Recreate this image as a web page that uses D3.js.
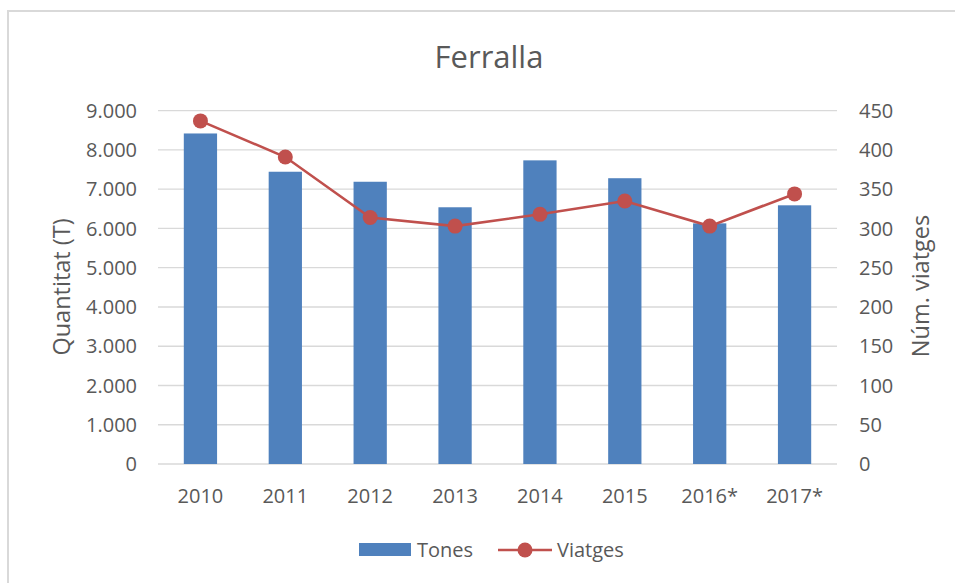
<!DOCTYPE html>
<html lang="ca">
<head>
    <meta charset="UTF-8">
    <title>Ferralla</title>
    <script src="https://d3js.org/d3.v7.min.js"></script>
    <style>
        body {
            margin: 0;
            background: #fff;
            font-family: "Open Sans", Arial, sans-serif;
        }
        .grid line {
            stroke: #d9d9d9;
            stroke-width: 1.3px;
        }
        .tick-label {
            font-size: 20px;
            fill: #595959;
        }
        .axis-title {
            font-size: 23.5px;
            fill: #595959;
        }
    </style>
</head>
<body>
    <svg id="chart" width="955" height="583"></svg>

    <script>
        // chart data
        const years = ["2010", "2011", "2012", "2013", "2014", "2015", "2016*", "2017*"];
        const tones = [8420, 7445, 7190, 6540, 7735, 7280, 6130, 6590];
        const viatges = [437, 391, 314, 303, 318, 335, 303, 344];
        const leftTicks = [0, 1000, 2000, 3000, 4000, 5000, 6000, 7000, 8000, 9000];
        const rightTicks = [0, 50, 100, 150, 200, 250, 300, 350, 400, 450];

        const barColor = "#4f81bd";
        const lineColor = "#c0504d";

        const svg = d3.select("#chart");

        // outer frame of the chart area
        svg.append("rect")
            .attr("x", 8)
            .attr("y", 11)
            .attr("width", 960)
            .attr("height", 600)
            .attr("fill", "none")
            .attr("stroke", "#d9d9d9")
            .attr("stroke-width", 2);

        const plot = { left: 158, right: 837, top: 110.7, bottom: 464 };

        const x = d3.scaleBand()
            .domain(years)
            .range([plot.left, plot.right])
            .paddingInner(0.608)
            .paddingOuter(0.304);

        const xPoint = d => x(d) + x.bandwidth() / 2;

        const yLeft = d3.scaleLinear().domain([0, 9000]).range([plot.bottom, plot.top]);
        const yRight = d3.scaleLinear().domain([0, 450]).range([plot.bottom, plot.top]);

        const fmt = d3.formatLocale({ decimal: ",", thousands: ".", grouping: [3], currency: ["", " €"] }).format(",");

        // title
        svg.append("text")
            .attr("x", 489)
            .attr("y", 68)
            .attr("text-anchor", "middle")
            .attr("font-size", 31)
            .attr("fill", "#595959")
            .text("Ferralla");

        // gridlines
        svg.append("g")
            .attr("class", "grid")
            .selectAll("line")
            .data(leftTicks)
            .join("line")
            .attr("x1", plot.left)
            .attr("x2", plot.right)
            .attr("y1", d => yLeft(d))
            .attr("y2", d => yLeft(d));

        // left axis labels
        svg.append("g")
            .selectAll("text")
            .data(leftTicks)
            .join("text")
            .attr("class", "tick-label")
            .attr("x", 137)
            .attr("y", d => yLeft(d))
            .attr("dy", "0.36em")
            .attr("text-anchor", "end")
            .text(d => fmt(d));

        // right axis labels
        svg.append("g")
            .selectAll("text")
            .data(rightTicks)
            .join("text")
            .attr("class", "tick-label")
            .attr("x", 859)
            .attr("y", d => yRight(d))
            .attr("dy", "0.36em")
            .attr("text-anchor", "start")
            .text(d => d);

        // category labels
        svg.append("g")
            .selectAll("text")
            .data(years)
            .join("text")
            .attr("class", "tick-label")
            .attr("x", d => xPoint(d))
            .attr("y", 503)
            .attr("text-anchor", "middle")
            .text(d => d);

        // axis titles
        svg.append("text")
            .attr("class", "axis-title")
            .attr("transform", "translate(70,287) rotate(-90)")
            .attr("text-anchor", "middle")
            .text("Quantitat (T)");

        svg.append("text")
            .attr("class", "axis-title")
            .attr("transform", "translate(929,286) rotate(-90)")
            .attr("text-anchor", "middle")
            .text("Núm. viatges");

        // bars
        svg.append("g")
            .selectAll("rect")
            .data(years)
            .join("rect")
            .attr("x", d => x(d))
            .attr("y", (d, i) => yLeft(tones[i]))
            .attr("width", x.bandwidth())
            .attr("height", (d, i) => plot.bottom - yLeft(tones[i]))
            .attr("fill", barColor);

        // line + markers
        const line = d3.line()
            .x((d, i) => xPoint(years[i]))
            .y(d => yRight(d));

        svg.append("path")
            .datum(viatges)
            .attr("d", line)
            .attr("fill", "none")
            .attr("stroke", lineColor)
            .attr("stroke-width", 2.6);

        svg.append("g")
            .selectAll("circle")
            .data(viatges)
            .join("circle")
            .attr("cx", (d, i) => xPoint(years[i]))
            .attr("cy", d => yRight(d))
            .attr("r", 7.5)
            .attr("fill", lineColor);

        // legend
        const legend = svg.append("g");
        legend.append("rect")
            .attr("x", 359)
            .attr("y", 543)
            .attr("width", 52)
            .attr("height", 13)
            .attr("fill", barColor);
        legend.append("text")
            .attr("class", "tick-label")
            .attr("x", 417)
            .attr("y", 557)
            .text("Tones");
        legend.append("line")
            .attr("x1", 498)
            .attr("x2", 552)
            .attr("y1", 550)
            .attr("y2", 550)
            .attr("stroke", lineColor)
            .attr("stroke-width", 2.6);
        legend.append("circle")
            .attr("cx", 525)
            .attr("cy", 550)
            .attr("r", 7.5)
            .attr("fill", lineColor);
        legend.append("text")
            .attr("class", "tick-label")
            .attr("x", 557)
            .attr("y", 557)
            .text("Viatges");
    </script>
</body>
</html>
